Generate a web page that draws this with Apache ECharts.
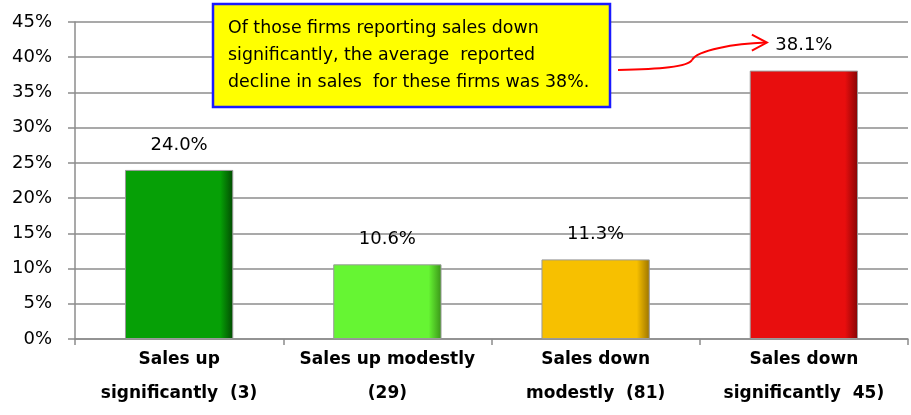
<!DOCTYPE html>
<html>
<head>
<meta charset="utf-8">
<script src="https://cdn.jsdelivr.net/npm/echarts@6/dist/echarts.min.js"></script>
<style>
  html, body { margin: 0; padding: 0; background: #fff; }
  #chart { width: 911px; height: 415px; }
</style>
</head>
<body>
<div id="chart"></div>
<script>
// data
const categories = ['Sales up\nsignificantly  (3)', 'Sales up modestly\n(29)', 'Sales down\nmodestly  (81)', 'Sales down\nsignificantly  45)']
const shares = [24.0, 10.6, 11.3, 38.1]
const barColors = ['#06a006', '#66f533', '#f7c000', '#e80e0e']
const barEdges = ['#024a02', '#3a9418', '#9c7400', '#850505']
const note = 'Of those firms reporting sales down\nsignificantly, the average  reported\ndecline in sales  for these firms was 38%.'

const font = '"DejaVu Sans", sans-serif'
const chart = echarts.init(document.getElementById('chart'))

const option = {
  animation: false,
  grid: { left: 75, right: 3, top: 22, bottom: 76 },
  xAxis: {
    type: 'category',
    data: categories,
    axisLine: { lineStyle: { color: '#8c8c8c', width: 1.5 } },
    axisTick: { show: true, length: 6, lineStyle: { color: '#8c8c8c', width: 1.5 } },
    axisLabel: {
      color: '#000', fontFamily: font, fontWeight: 'bold', fontSize: 17,
      lineHeight: 34, margin: 4, interval: 0
    }
  },
  yAxis: {
    type: 'value',
    min: 0, max: 45, interval: 5,
    axisLine: { show: true, lineStyle: { color: '#8c8c8c', width: 1.5 } },
    axisTick: { show: true, length: 7, lineStyle: { color: '#8c8c8c', width: 1.5 } },
    splitLine: { lineStyle: { color: '#8c8c8c', width: 1.5 } },
    axisLabel: {
      color: '#000', fontFamily: font, fontSize: 18, margin: 23,
      formatter: v => v + '%'
    }
  },
  series: [{
    type: 'bar',
    barWidth: '52%',
    data: shares.map((v, i) => ({
      value: v,
      itemStyle: {
        color: new echarts.graphic.LinearGradient(0, 0, 1, 0, [
          { offset: 0, color: barColors[i] },
          { offset: 0.88, color: barColors[i] },
          { offset: 1, color: barEdges[i] }
        ]),
        borderColor: '#9a9a9a',
        borderWidth: 1
      }
    })),
    label: {
      show: true, position: 'top', distance: 16,
      color: '#000', fontFamily: font, fontSize: 18,
      formatter: p => p.value.toFixed(1) + '%'
    }
  }]
}
chart.setOption(option)

// annotation box and the arrow pointing at the last bar's label
const tip = chart.convertToPixel({ seriesIndex: 0 }, [3, shares[3]])
const tx = tip[0] - 38, ty = tip[1] - 28
chart.setOption({
  graphic: [
    {
      type: 'rect',
      shape: { x: 213, y: 4, width: 397, height: 103 },
      style: { fill: '#ffff00', stroke: '#1a1aff', lineWidth: 2.5 }
    },
    {
      type: 'text', x: 228, y: 15,
      style: { text: note, fill: '#000', font: '17.4px ' + font, lineHeight: 27 }
    },
    {
      type: 'bezierCurve',
      shape: { x1: 618, y1: 70, cpx1: 660, cpy1: 69, cpx2: 688, cpy2: 67, x2: 692, y2: 60 },
      style: { fill: null, stroke: '#ff0000', lineWidth: 2 }
    },
    {
      type: 'bezierCurve',
      shape: { x1: 692, y1: 60, cpx1: 697, cpy1: 50, cpx2: 735, cpy2: ty + 1, x2: tx, y2: ty },
      style: { fill: null, stroke: '#ff0000', lineWidth: 2 }
    },
    {
      type: 'polyline',
      shape: { points: [[tx - 14, ty - 8], [tx + 1, ty], [tx - 14, ty + 8]] },
      style: { fill: null, stroke: '#ff0000', lineWidth: 2 }
    }
  ]
})
</script>
</body>
</html>
